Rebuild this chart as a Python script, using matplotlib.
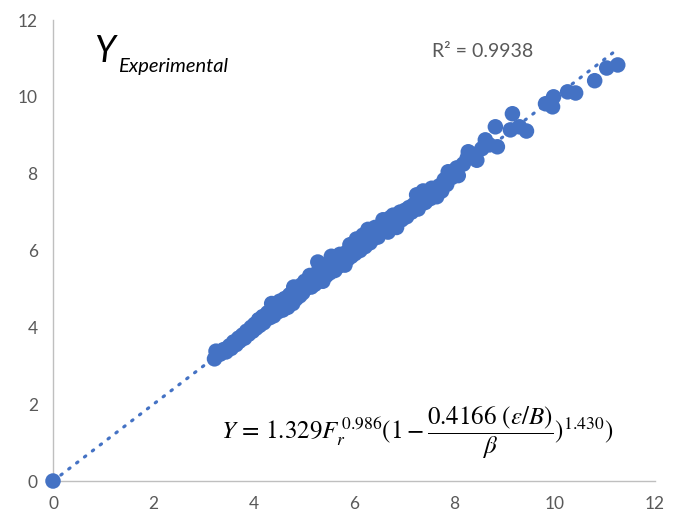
import numpy as np
import matplotlib
matplotlib.use("Agg")
import matplotlib.pyplot as plt

# ---- data ----
x_vals = [0.00,
    3.22, 3.25, 3.33, 3.40, 3.45, 3.52, 3.55, 3.60, 3.65, 3.70, 3.72, 3.78, 3.82, 3.86, 3.90, 3.95, 3.98,
    4.02, 4.05, 4.10, 4.12, 4.18, 4.20, 4.25, 4.28, 4.32, 4.36, 4.38, 4.40, 4.45, 4.48, 4.52, 4.55, 4.58,
    4.62, 4.65, 4.68, 4.72, 4.75, 4.78, 4.80, 4.82, 4.85, 4.90, 4.92, 4.95, 4.98,
    5.02, 5.05, 5.08, 5.12, 5.15, 5.18, 5.22, 5.25, 5.28, 5.30, 5.35, 5.38, 5.42, 5.45, 5.50, 5.52, 5.55,
    5.58, 5.62, 5.65, 5.68, 5.72, 5.75, 5.78, 5.82, 5.85, 5.88, 5.92, 5.95, 5.98,
    6.02, 6.05, 6.08, 6.12, 6.15, 6.18, 6.22, 6.25, 6.28, 6.32, 6.35, 6.38, 6.42, 6.45, 6.48, 6.52, 6.55,
    6.58, 6.62, 6.65, 6.68, 6.72, 6.75, 6.78, 6.82, 6.85, 6.88, 6.92, 6.95, 6.98,
    7.02, 7.05, 7.10, 7.15, 7.20, 7.25, 7.28, 7.32, 7.38, 7.42, 7.48, 7.52, 7.55, 7.60, 7.65, 7.70, 7.75,
    7.80, 7.85, 7.88, 7.95, 8.05, 8.08,
    8.18, 8.26, 8.28, 8.40, 8.45, 8.55, 8.62, 8.70, 8.86, 8.82, 9.12, 9.30, 9.44, 9.16, 9.82, 9.96, 9.98,
    10.26, 10.42, 10.80, 11.04, 11.26]
y_vals = [0.00,
    3.18, 3.38, 3.30, 3.42, 3.36, 3.52, 3.45, 3.62, 3.55, 3.72, 3.64, 3.80, 3.72, 3.90, 3.82, 4.00, 3.90,
    4.08, 3.98, 4.20, 4.05, 4.28, 4.12, 4.22, 4.38, 4.25, 4.62, 4.45, 4.30, 4.52, 4.40, 4.68, 4.55, 4.45,
    4.75, 4.60, 4.52, 4.85, 4.70, 4.62, 5.05, 4.90, 4.75, 4.98, 4.82, 5.10, 4.90,
    5.20, 5.02, 5.12, 5.35, 5.05, 5.22, 5.12, 5.40, 5.70, 5.25, 5.45, 5.20, 5.58, 5.35, 5.65, 5.42, 5.85,
    5.55, 5.48, 5.72, 5.58, 5.90, 5.65, 5.80, 5.62, 5.95, 5.78, 6.15, 5.85, 6.05,
    5.92, 6.30, 6.10, 6.00, 6.22, 6.40, 6.10, 6.30, 6.55, 6.20, 6.42, 6.30, 6.60, 6.45, 6.35, 6.62, 6.50,
    6.80, 6.55, 6.70, 6.48, 6.85, 6.65, 6.92, 6.72, 6.60, 6.85, 7.00, 6.80, 6.95,
    7.05, 6.88, 7.12, 7.00, 7.20, 7.45, 7.08, 7.30, 7.55, 7.25, 7.45, 7.35, 7.62, 7.50, 7.40, 7.68, 7.55,
    7.84, 7.72, 8.05, 7.90, 8.15, 7.95,
    8.25, 8.41, 8.57, 8.50, 8.35, 8.65, 8.88, 8.75, 8.70, 9.22, 9.14, 9.22, 9.11, 9.56, 9.82, 9.74, 10.00,
    10.13, 10.10, 10.42, 10.75, 10.83]
x_ticks = [0, 2, 4, 6, 8, 10, 12]
y_ticks = [0, 2, 4, 6, 8, 10, 12]
r2_label = "R² = 0.9938"

BLUE = "#4472C4"
GRAY = "#595959"

plt.rcParams["mathtext.fontset"] = "stix"

fig = plt.figure(figsize=(6.77, 5.17), dpi=100)
ax = fig.add_axes([0.0783, 0.0696, 0.889, 0.8917])

x = np.array(x_vals)
y = np.array(y_vals)
ax.scatter(x, y, s=125, color=BLUE, edgecolors="none", zorder=3, clip_on=False)

# linear trendline through the origin
slope = np.sum(x * y) / np.sum(x * x)
xt = np.array([0.0, x.max() - 0.1])
ax.plot(xt, slope * xt, linestyle=(0, (0.5, 2.6)), linewidth=2.3,
        color=BLUE, dash_capstyle="round", zorder=2)

ax.set_xlim(0, 12)
ax.set_ylim(0, 12)
ax.set_xticks(x_ticks)
ax.set_yticks(y_ticks)
for s in ["top", "right"]:
    ax.spines[s].set_visible(False)
for s in ["left", "bottom"]:
    ax.spines[s].set_color("#BFBFBF")
    ax.spines[s].set_linewidth(1.0)
ax.tick_params(length=0, labelsize=12.5, labelcolor=GRAY, pad=11, labelfontfamily="Lato")

ax.text(0.82, 10.9, "Y", fontsize=26, style="italic", family="Lato", color="black")
ax.text(1.3, 10.65, "Experimental", fontsize=14.5, style="italic", family="Lato", color="black")
ax.text(7.55, 11.05, r2_label, fontsize=14, family="Lato", color=GRAY)

ax.text(3.35, 1.1,
        r"$Y\,=\,1.329F_r^{\,0.986}(1-\dfrac{0.4166\ (\varepsilon/B)}{\beta})^{1.430})$",
        fontsize=18, color="black")

fig.savefig("out.png", dpi=100)
